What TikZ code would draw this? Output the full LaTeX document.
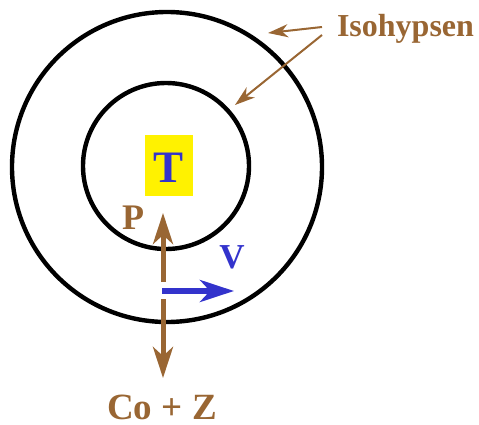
\documentclass[tikz,border=0pt]{standalone}
\usepackage{fontspec}
\setmainfont{Liberation Serif}
\usetikzlibrary{arrows.meta}
\definecolor{brn}{HTML}{996633}
\definecolor{blu}{HTML}{3333CC}
\begin{document}
\begin{tikzpicture}[x=1pt,y=-1pt,
  lbl/.style={inner sep=0pt, anchor=base},
  isoline/.style={line width=4.4pt, draw=black},
  force/.style={line width=5pt, draw=brn, -{Stealth[length=31pt,width=20pt,inset=9pt]}},
  vel/.style={line width=5.5pt, draw=blu, -{Stealth[length=34pt,width=22pt,inset=10pt]}},
  leader/.style={line width=2pt, draw=brn, -{Stealth[length=20pt,width=13pt,inset=6pt]}}]
\useasboundingbox (0,0) rectangle (479,425);
\draw[isoline] (167,167) circle[radius=155pt];
\draw[isoline] (166,166) circle[radius=83pt];
\node[fill=yellow, minimum width=48pt, minimum height=61pt, inner sep=0pt] (tbox) at (169,165.5) {};
\node[lbl, text=blu, font=\fontsize{45}{45}\selectfont\bfseries] (T) at (169,182) {T};
\node[lbl, text=brn, font=\fontsize{36}{36}\selectfont\bfseries] (P) at (133,229) {P};
\node[lbl, text=blu, font=\fontsize{35}{35}\selectfont\bfseries] (V) at (232,268) {V};
\node[lbl, text=brn, font=\fontsize{37}{37}\selectfont\bfseries] (CoZ) at (162,419) {Co + Z};
\node[lbl, text=brn, font=\fontsize{32}{32}\selectfont\bfseries] (iso) at (405.5,37) {Isohypsen};
\coordinate (upS) at (163,282);
\coordinate (upE) at (163,213);
\coordinate (dnS) at (163,299);
\coordinate (dnE) at (163,378);
\coordinate (vS) at (162,291);
\coordinate (vE) at (234,291);
\coordinate (l1S) at (322,27);
\coordinate (l1E) at (268,33);
\coordinate (l2S) at (322,35);
\coordinate (l2E) at (235,105);
\draw[force] (upS) -- (upE);
\draw[force] (dnS) -- (dnE);
\draw[vel] (vS) -- (vE);
\draw[leader] (l1S) -- (l1E);
\draw[leader] (l2S) -- (l2E);
\end{tikzpicture}
\end{document}
